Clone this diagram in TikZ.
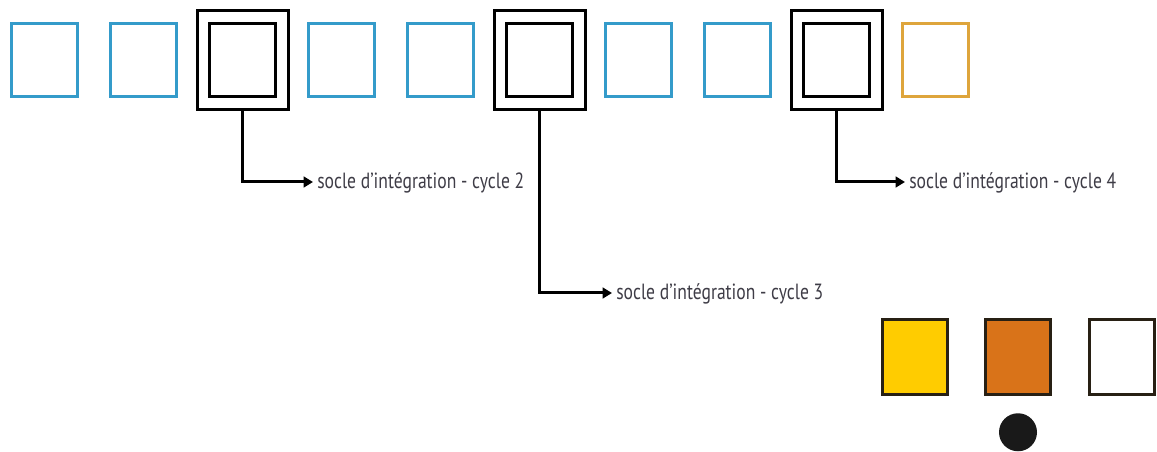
\documentclass[tikz,border=0pt]{standalone}
\usepackage{fontspec}
\newfontfamily\labelfont[FakeStretch=0.8]{PT Sans}
\usetikzlibrary{positioning, arrows.meta, calc}
\definecolor{boxblue}{RGB}{52,155,202}
\definecolor{boxorange}{RGB}{222,165,60}
\definecolor{legyellow}{RGB}{255,204,0}
\definecolor{legorange}{RGB}{217,115,25}
\definecolor{legline}{RGB}{40,32,20}
\definecolor{labelgray}{RGB}{62,60,70}

\begin{document}
\begin{tikzpicture}[
  x=0.75pt, y=-0.75pt,
  every node/.style={inner sep=0pt},
  sqbox/.style={line width=2.25pt, minimum width=49.5pt, minimum height=54.75pt},
  framebox/.style={draw=black, line width=2.25pt, minimum width=68.25pt, minimum height=74.25pt},
  legendbox/.style={draw=legline, line width=2.25pt, minimum width=48.75pt, minimum height=56.25pt},
  dot/.style={circle, fill=black!90, minimum size=28.5pt},
  lbl/.style={anchor=west, inner xsep=3pt, text height=10.5pt, text depth=0pt,
    font=\labelfont\fontsize{16.5}{18}\selectfont, text=labelgray},
  link/.style={draw=black, line width=2.25pt, -{Triangle[length=7pt, width=8pt]}}
]
\useasboundingbox (0,0) rectangle (1157,452);

% row of cycles
\foreach \i/\col in {1/boxblue, 2/boxblue, 3/black, 4/boxblue, 5/boxblue,
                     6/black, 7/boxblue, 8/boxblue, 9/black, 10/boxorange}
  \node[sqbox, draw=\col] (s\i) at ({44.5+99*(\i-1)}, 60) {};

\foreach \i in {3,6,9}
  \node[framebox] (f\i) at (s\i) {};

% labels
\node[lbl] (c2) at (313,182) {socle d’intégration - cycle 2};
\node[lbl] (c3) at (612,293) {socle d’intégration - cycle 3};
\node[lbl] (c4) at (905,182) {socle d’intégration - cycle 4};

\draw[link] (f3.south) |- (c2.west);
\draw[link] (f6.south) |- (c3.west);
\draw[link] (f9.south) |- (c4.west);

% legend
\node[legendbox, fill=legyellow] (k1) at (915,357) {};
\node[legendbox, fill=legorange, right=26.25pt of k1] (k2) {};
\node[legendbox, fill=white, right=27pt of k2] (k3) {};
\node[dot, below=12.75pt of k2] (d1) {};

\end{tikzpicture}
\end{document}
